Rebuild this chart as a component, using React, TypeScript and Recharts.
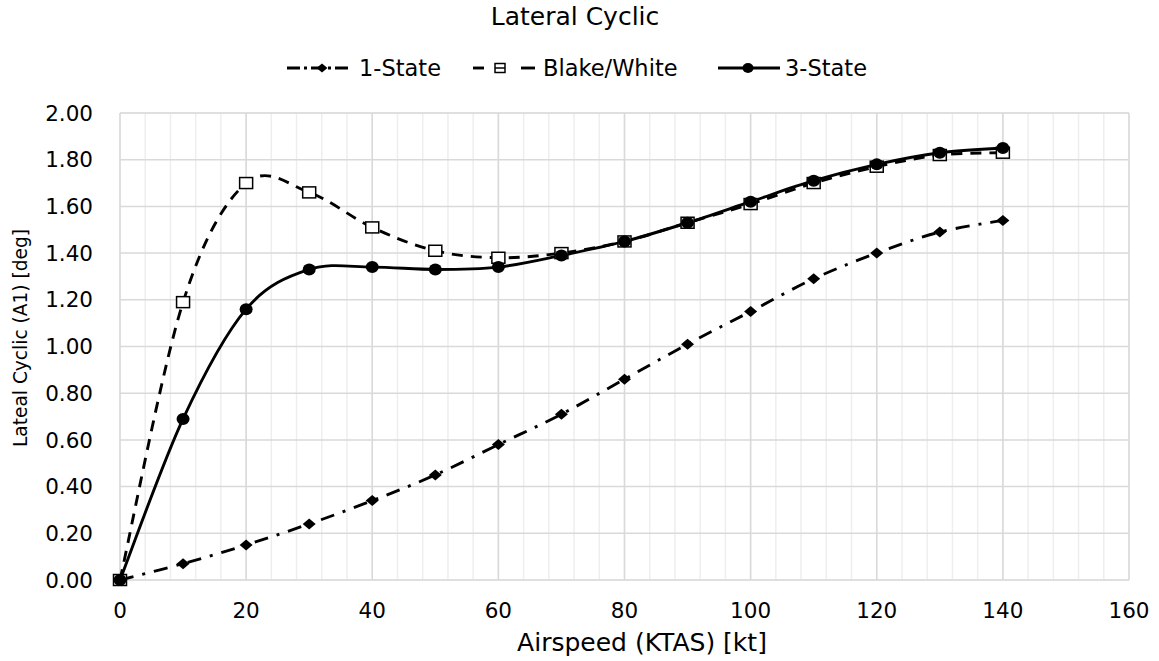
import React from 'react';
import { LineChart, Line, XAxis, YAxis, CartesianGrid } from 'recharts';

// Airspeed stations (KTAS, kt)
const airspeed = [0, 10, 20, 30, 40, 50, 60, 70, 80, 90, 100, 110, 120, 130, 140];

// Lateral cyclic (A1) in degrees for each model
const oneState = [0, 0.07, 0.15, 0.24, 0.34, 0.45, 0.58, 0.71, 0.86, 1.01, 1.15, 1.29, 1.4, 1.49, 1.54];
const blakeWhite = [0, 1.19, 1.7, 1.66, 1.51, 1.41, 1.38, 1.4, 1.45, 1.53, 1.61, 1.7, 1.77, 1.82, 1.83];
const threeState = [0, 0.69, 1.16, 1.33, 1.34, 1.33, 1.34, 1.39, 1.45, 1.53, 1.62, 1.71, 1.78, 1.83, 1.85];

// Axis ticks
const xTicks = [0, 20, 40, 60, 80, 100, 120, 140, 160];
const yTicks = [0, 0.2, 0.4, 0.6, 0.8, 1.0, 1.2, 1.4, 1.6, 1.8, 2.0];
const xMinorStep = 4;
const yMinorStep = 0.04;

const seriesNames = ['1-State', 'Blake/White', '3-State'];

const steps = (max: number, step: number) => {
  const out: number[] = [];
  for (let i = 0; i * step <= max + 1e-9; i++) out.push(+(i * step).toFixed(4));
  return out;
};
const xMinor = steps(160, xMinorStep);
const yMinor = steps(2, yMinorStep);

const data = airspeed.map((x, i) => ({
  x,
  oneState: oneState[i],
  blakeWhite: blakeWhite[i],
  threeState: threeState[i],
}));

const FONT = '"DejaVu Sans", sans-serif';

// Smoothed line in the spreadsheet style: cubic Bezier segments whose control
// points follow the neighbouring points (uniform Catmull-Rom).
const smoothCurve = (context: any) => {
  let pts: [number, number][] = [];
  return {
    areaStart() {},
    areaEnd() {},
    lineStart() {
      pts = [];
    },
    point(x: number, y: number) {
      pts.push([+x, +y]);
    },
    lineEnd() {
      const n = pts.length;
      if (!n) return;
      context.moveTo(pts[0][0], pts[0][1]);
      if (n === 1) return;
      for (let i = 0; i < n - 1; i++) {
        const p0 = pts[Math.max(i - 1, 0)];
        const p1 = pts[i];
        const p2 = pts[i + 1];
        const p3 = pts[Math.min(i + 2, n - 1)];
        const c1x = p1[0] + (p2[0] - p0[0]) / 6;
        const c1y = p1[1] + (p2[1] - p0[1]) / 6;
        const c2x = p2[0] - (p3[0] - p1[0]) / 6;
        const c2y = p2[1] - (p3[1] - p1[1]) / 6;
        context.bezierCurveTo(c1x, c1y, c2x, c2y, p2[0], p2[1]);
      }
    },
  };
};

const Diamond = ({ cx, cy, w = 6.5, h = 5.5 }: any) => (
  <polygon points={`${cx},${cy - h} ${cx + w},${cy} ${cx},${cy + h} ${cx - w},${cy}`} fill="#000" />
);
const Square = ({ cx, cy, w = 6.5, h = 5.5 }: any) => (
  <rect x={cx - w} y={cy - h} width={w * 2} height={h * 2} fill="#fff" stroke="#000" strokeWidth={1.5} />
);
const Dot = ({ cx, cy, rx = 6.5, ry = 6 }: any) => <ellipse cx={cx} cy={cy} rx={rx} ry={ry} fill="#000" />;

const renderDiamond = (p: any) => <Diamond key={`d${p.index}`} cx={p.cx} cy={p.cy} />;
const renderSquare = (p: any) => <Square key={`s${p.index}`} cx={p.cx} cy={p.cy} />;
const renderDot = (p: any) => <Dot key={`c${p.index}`} cx={p.cx} cy={p.cy} />;

const DASH_DOT = '14 9 3 9';
const DASH = '11 8';
const LW = 2.9;

// Legend entries: icon span, marker and label position
const legendItems = [
  { name: seriesNames[0], x1: 287, x2: 350, mx: 322, tx: 359, dash: '13 4 3 4', marker: 'diamond' },
  { name: seriesNames[1], x1: 473, x2: 535, mx: 500, tx: 543, dash: '11 39', marker: 'square' },
  { name: seriesNames[2], x1: 718, x2: 780, mx: 748, tx: 785, dash: undefined, marker: 'circle' },
];

const Overlay = () => (
  <svg
    width={1159}
    height={661}
    style={{ position: 'absolute', left: 0, top: 0, pointerEvents: 'none' }}
    fontFamily={FONT}
  >
    <text x={575} y={25} textAnchor="middle" fontSize={25} fill="#000">
      Lateral Cyclic
    </text>
    {legendItems.map((it) => {
      const cy = 68;
      const cx = it.mx;
      return (
        <g key={it.name}>
          {it.marker === 'square' ? (
            <g>
              <line x1={it.x1} y1={cy} x2={it.x1 + 11} y2={cy} stroke="#000" strokeWidth={LW} />
              <line x1={it.x2 - 14} y1={cy} x2={it.x2} y2={cy} stroke="#000" strokeWidth={LW} />
            </g>
          ) : (
            <line x1={it.x1} y1={cy} x2={it.x2} y2={cy} stroke="#000" strokeWidth={LW} strokeDasharray={it.dash} />
          )}
          {it.marker === 'diamond' && <Diamond cx={cx} cy={cy} w={5.5} h={4.5} />}
          {it.marker === 'square' && (
            <g>
              <rect x={cx - 5} y={cy - 4.5} width={10} height={9} fill="#fff" stroke="#000" strokeWidth={1.5} />
              <line x1={cx - 5} y1={cy} x2={cx + 5} y2={cy} stroke="#000" strokeWidth={1.5} />
            </g>
          )}
          {it.marker === 'circle' && <Dot cx={cx} cy={cy} rx={5.5} ry={5} />}
          <text x={it.tx} y={76} fontSize={22.5} fill="#000">
            {it.name}
          </text>
        </g>
      );
    })}
    <text x={642} y={651} textAnchor="middle" fontSize={25} fill="#000">
      Airspeed (KTAS) [kt]
    </text>
    <text x={27} y={338} transform="rotate(-90 27 338)" textAnchor="middle" fontSize={18.6} fill="#000">
      Lateal Cyclic (A1) [deg]
    </text>
  </svg>
);

export default function App() {
  return (
    <div style={{ position: 'absolute', left: 0, top: 0, width: 1159, height: 661, background: '#fff' }}>
      <LineChart width={1159} height={661} data={data} margin={{ top: 113, right: 30, left: 0, bottom: 0 }}>
        <XAxis xAxisId="minor" dataKey="x" type="number" domain={[0, 160]} ticks={xMinor} interval={0} hide />
        <YAxis yAxisId="minor" type="number" domain={[0, 2]} ticks={yMinor} interval={0} hide />
        <CartesianGrid xAxisId="minor" yAxisId="minor" stroke="#eeeeee" strokeWidth={1.5} />
        <CartesianGrid stroke="#d9d9d9" strokeWidth={1.5} />
        <XAxis
          dataKey="x"
          type="number"
          domain={[0, 160]}
          ticks={xTicks}
          interval={0}
          height={81}
          axisLine={false}
          tickLine={false}
          tickSize={0}
          tickMargin={23}
          tick={{ fill: '#000', fontSize: 21.5, fontFamily: FONT }}
        />
        <YAxis
          type="number"
          domain={[0, 2]}
          ticks={yTicks}
          interval={0}
          width={120}
          axisLine={false}
          tickLine={false}
          tickSize={0}
          tickMargin={27}
          tickFormatter={(v: number) => v.toFixed(2)}
          tick={{ fill: '#000', fontSize: 21.5, fontFamily: FONT }}
        />
        <Line
          dataKey="oneState"
          name={seriesNames[0]}
          type={smoothCurve as any}
          stroke="#000"
          strokeWidth={LW}
          strokeDasharray={DASH_DOT}
          dot={renderDiamond}
          activeDot={false}
          isAnimationActive={false}
        />
        <Line
          dataKey="blakeWhite"
          name={seriesNames[1]}
          type={smoothCurve as any}
          stroke="#000"
          strokeWidth={LW}
          strokeDasharray={DASH}
          dot={renderSquare}
          activeDot={false}
          isAnimationActive={false}
        />
        <Line
          dataKey="threeState"
          name={seriesNames[2]}
          type={smoothCurve as any}
          stroke="#000"
          strokeWidth={LW}
          dot={renderDot}
          activeDot={false}
          isAnimationActive={false}
        />
      </LineChart>
      <Overlay />
    </div>
  );
}
